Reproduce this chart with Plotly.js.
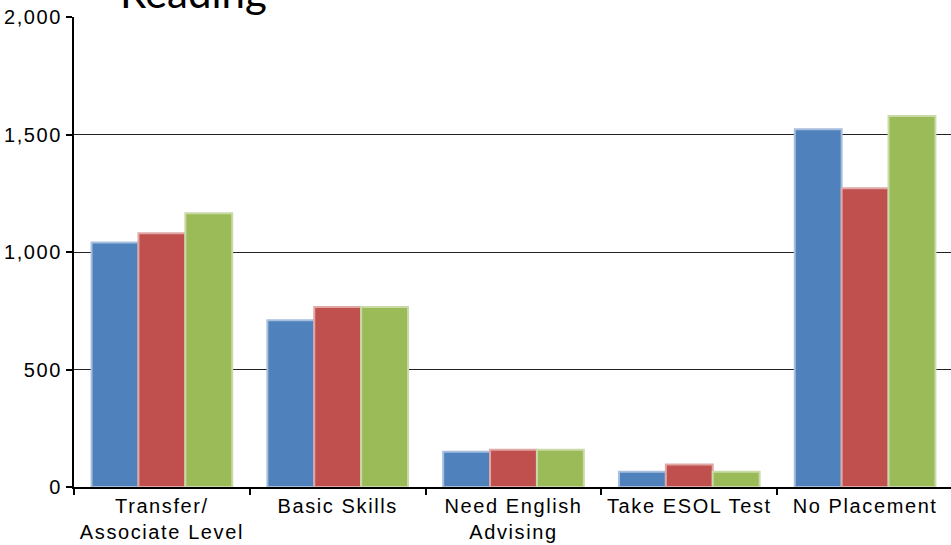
<!DOCTYPE html>
<html>
<head>
<meta charset="utf-8">
<script src="https://cdn.plot.ly/plotly-3.0.1.min.js"></script>
<style>
html, body { margin: 0; padding: 0; overflow: hidden; background: #fff; }
#chart { width: 953px; height: 545px; }
.xtick text, .ytick text { letter-spacing: 1.6px; }
</style>
</head>
<body>
<div id="chart"></div>
<script>
var categories = ["Transfer/<br>Associate Level", "Basic Skills", "Need English<br>Advising", "Take ESOL Test", "No Placement"];
var series1 = [1040, 710, 150, 65, 1522];
var series2 = [1080, 766, 159, 96, 1271];
var series3 = [1165, 766, 159, 65, 1579];
var seriesNames = ["Series 1", "Series 2", "Series 3"];
var yTickVals = [0, 500, 1000, 1500, 2000];
var yTickText = ["0", "500", "1,000", "1,500", "2,000"];
var chartTitle = "Reading";

var fills = ["#4F81BD", "#C0504D", "#9BBB59"];
var edges = ["#A7BFDE", "#DFA7A6", "#C9DAA8"];
var allSeries = [series1, series2, series3];

var traces = allSeries.map(function (vals, i) {
  return {
    type: "bar",
    name: seriesNames[i],
    x: categories,
    y: vals,
    marker: { color: fills[i], line: { color: edges[i], width: 2 } },
    hoverinfo: "x+y"
  };
});

var tickFont = { family: "Liberation Sans, Arial, sans-serif", size: 20, color: "#000" };

var layout = {
  width: 953,
  height: 545,
  margin: { l: 74, r: 0, t: 17, b: 58, pad: 0 },
  paper_bgcolor: "#ffffff",
  plot_bgcolor: "#ffffff",
  showlegend: false,
  barmode: "group",
  bargap: 0.2,
  bargroupgap: 0,
  font: tickFont,
  xaxis: {
    type: "category",
    showline: true,
    linecolor: "#000",
    linewidth: 2,
    ticks: "outside",
    tickson: "boundaries",
    ticklen: 6,
    tickcolor: "#000",
    tickwidth: 2,
    showgrid: false,
    zeroline: false,
    tickfont: tickFont
  },
  yaxis: {
    range: [0, 2000],
    tickvals: yTickVals,
    ticktext: yTickText,
    showline: true,
    linecolor: "#000",
    linewidth: 2,
    ticks: "outside",
    ticklen: 6,
    tickcolor: "#000",
    tickwidth: 2,
    showgrid: true,
    gridcolor: "#222",
    gridwidth: 1,
    zeroline: false,
    tickfont: tickFont
  },
  annotations: [{
    text: chartTitle,
    xref: "paper", yref: "paper",
    x: 0.05, y: 0.996,
    xanchor: "left", yanchor: "bottom",
    showarrow: false,
    font: { family: "Lato, Open Sans, sans-serif", size: 42, color: "#000" }
  }]
};

Plotly.newPlot("chart", traces, layout, { displayModeBar: false, staticPlot: true });
</script>
</body>
</html>
